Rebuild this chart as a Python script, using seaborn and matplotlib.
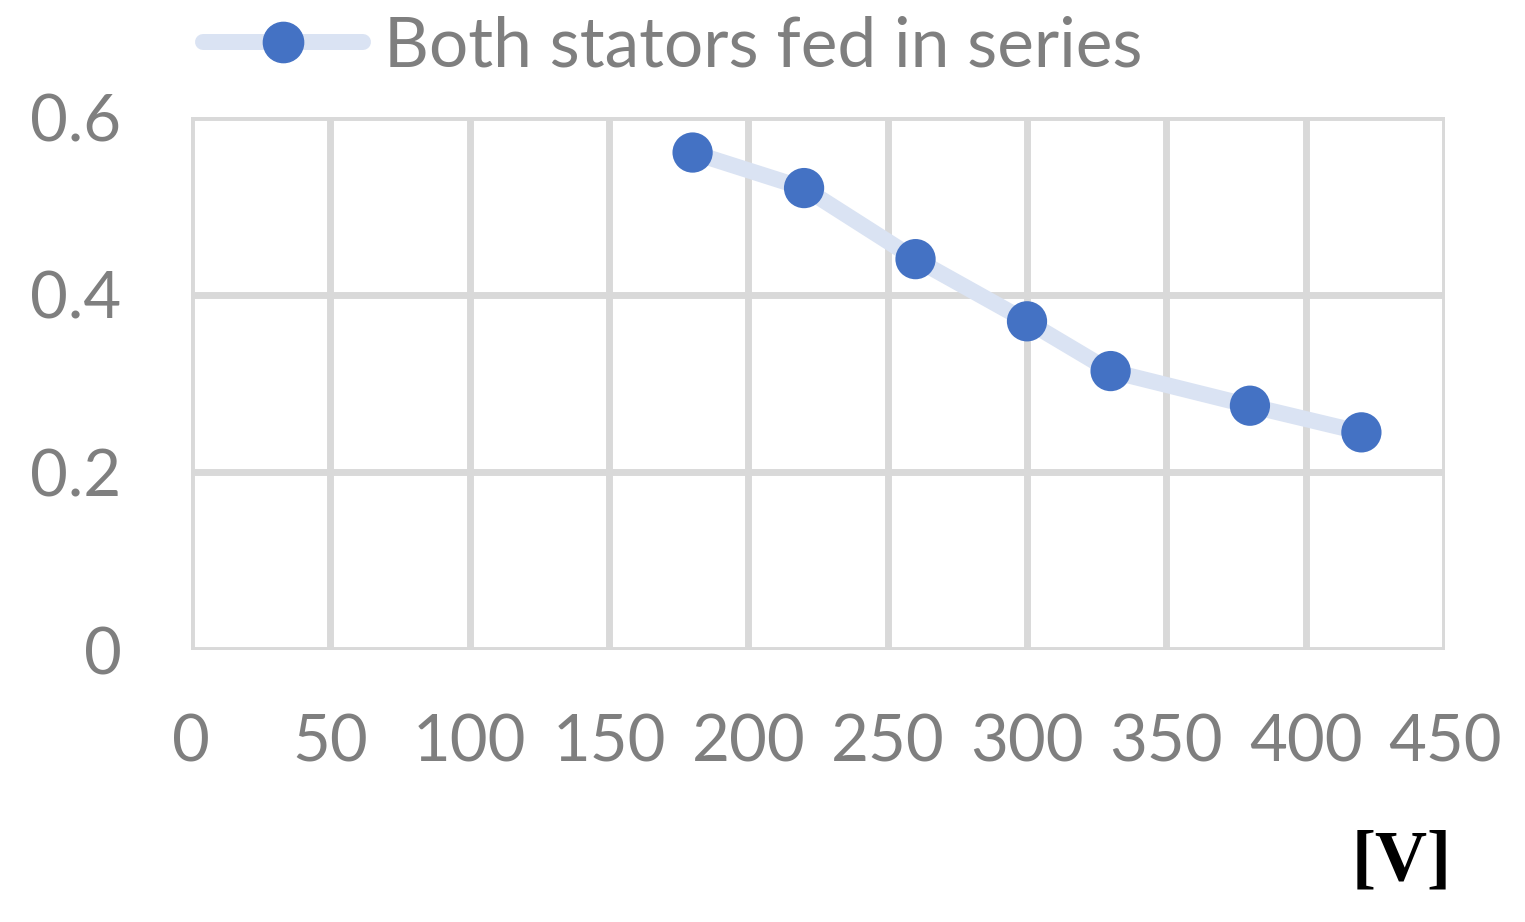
import matplotlib
matplotlib.use('Agg')
import matplotlib.pyplot as plt
import seaborn as sns
import pandas as pd
from matplotlib.lines import Line2D

# data
voltage = [180, 220, 260, 300, 330, 380, 420]
value = [0.56, 0.52, 0.44, 0.37, 0.314, 0.275, 0.245]
x_ticks = [0, 50, 100, 150, 200, 250, 300, 350, 400, 450]
y_ticks = [0, 0.2, 0.4, 0.6]
y_labels = ['0', '0.2', '0.4', '0.6']
series_name = 'Both stators fed in series'

df = pd.DataFrame({'V': voltage, 'val': value})

sns.set_theme(style='white')
plt.rcParams['font.family'] = ['Lato', 'DejaVu Sans']

fig = plt.figure(figsize=(15.25, 9.22), dpi=100)
ax = fig.add_axes([191 / 1525, 272 / 922, 1254 / 1525, 533 / 922])

grid_c = '#D9D9D9'
tick_c = '#7F7F7F'
line_c = '#DAE3F3'
dot_c = '#4472C4'

sns.lineplot(data=df, x='V', y='val', ax=ax, color=line_c, linewidth=11.5,
             solid_capstyle='round', zorder=3)
sns.scatterplot(data=df, x='V', y='val', ax=ax, color=dot_c, s=840,
                edgecolor='none', zorder=4)

ax.set_xlim(0, 450)
ax.set_ylim(0, 0.6)
ax.set_xticks(x_ticks)
ax.set_yticks(y_ticks)
ax.set_yticklabels(y_labels)
ax.tick_params(axis='both', length=0, labelsize=47, labelcolor=tick_c)
ax.tick_params(axis='x', pad=46)
ax.tick_params(axis='y', pad=50)
ax.grid(True, color=grid_c, linewidth=5)
ax.set_xlabel('')
ax.set_ylabel('')
for sp in ax.spines.values():
    sp.set_visible(False)

handle = Line2D([], [], color=line_c, linewidth=11.5, marker='o',
                markersize=29, markerfacecolor=dot_c, markeredgecolor=dot_c)
leg = fig.legend([handle], [series_name], loc='center left',
                 bbox_to_anchor=(203 / 1525, 1 - 47 / 922), frameon=False,
                 fontsize=50, handlelength=2.3, handletextpad=0.3,
                 borderpad=0, borderaxespad=0)
for t in leg.get_texts():
    t.set_color(tick_c)

fig.text(1452 / 1525, 1 - 862 / 922, '[V]', ha='right', va='center',
         fontsize=52, fontweight='bold', family='Liberation Serif',
         color='black')

fig.savefig('out.png', dpi=100)
